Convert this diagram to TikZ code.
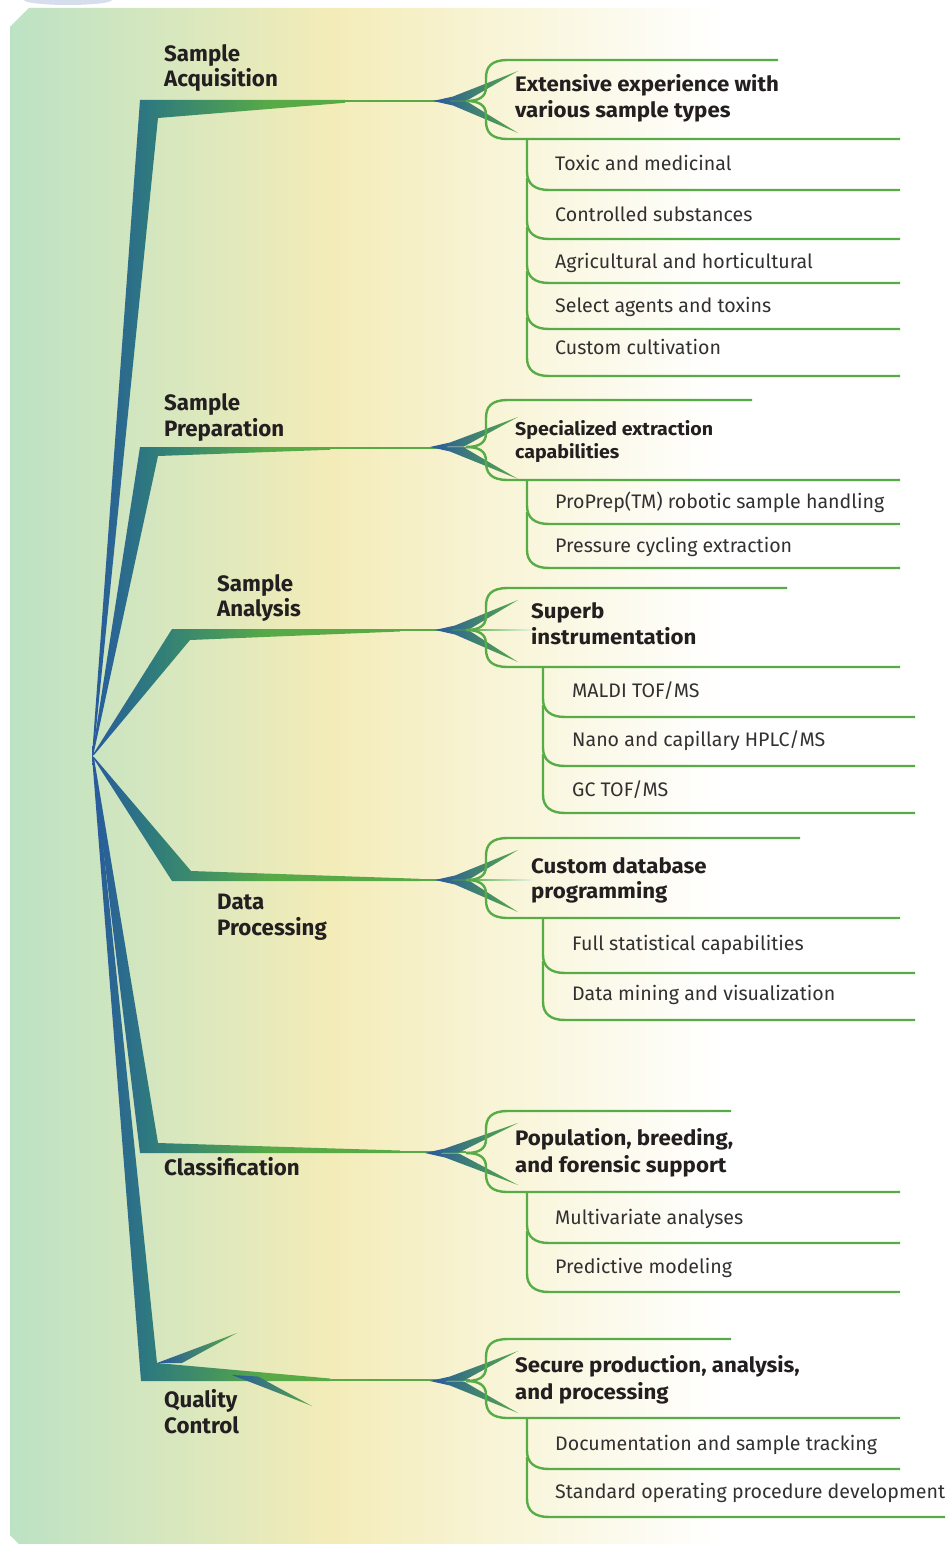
\documentclass[tikz,border=0pt]{standalone}
\usepackage{fontspec}
\setmainfont{Fira Sans}
\newfontfamily\headfont{Fira Sans}[FakeStretch=1.06]
\definecolor{lnGreen}{RGB}{88,172,72}
\definecolor{brBlue}{RGB}{40,88,160}
\definecolor{brTeal}{RGB}{46,122,126}
\definecolor{brGreen}{RGB}{88,170,70}
\definecolor{bgMint}{RGB}{188,226,196}
\definecolor{bgYellow}{RGB}{243,236,184}
\definecolor{txtDark}{RGB}{35,31,32}
\definecolor{txtItem}{RGB}{50,48,48}
\definecolor{blobC}{RGB}{214,222,238}
\tikzset{
  gl/.style={draw=lnGreen, line width=2.4pt},
  lab/.style={anchor=base west, inner sep=0pt, font=\fontsize{22.3}{26}\selectfont\bfseries, text=txtDark},
  head/.style={anchor=base west, inner sep=0pt, font=\headfont\fontsize{21}{25}\selectfont\bfseries, text=txtDark},
  itm/.style={anchor=base west, inner sep=0pt, font=\fontsize{19.6}{23}\selectfont, text=txtItem},
}
\newcommand\GBrace[5]{%
 \draw[gl] (#4,#1) -- (508,#1) .. controls (491,#1) and (486,#1+7) .. (486,#1+18) -- (486,#2-14) .. controls (486,#2-4) and (479,#2) .. (466,#2);
 \draw[gl] (466,#2) .. controls (479,#2) and (486,#2+4) .. (486,#2+14) -- (486,#3-18) .. controls (486,#3-7) and (491,#3) .. (508,#3) -- (#5,#3);
}
\newcommand\GItem[4]{%
 \draw[gl] (#1,#2) -- (#1,#3-18) .. controls (#1,#3-6) and (#1+8,#3) .. (#1+22,#3) -- (#4,#3);
}
\newcommand\GSpikes[2]{%
 \shade[left color=brBlue, right color=brGreen] (#1,#2) -- (#1+20,#2-4.5) -- (518,#2-30) -- (#1+34,#2-0.5) -- cycle;
 \shade[left color=brBlue, right color=brGreen] (#1,#2) -- (#1+20,#2+4.5) -- (518,#2+32) -- (#1+34,#2+0.5) -- cycle;
}
\newcommand\GBranch[1]{%
 \begin{scope}
 \clip #1;
 \shade[left color=brBlue, right color=brTeal] (88,40) rectangle (150,1460);
 \shade[left color=brTeal, right color=brGreen] (149.5,40) rectangle (270,1460);
 \fill[brGreen] (269.5,40) rectangle (480,1460);
 \end{scope}
}
\newcommand\GStem[3]{\draw[brGreen, line width=2.3pt] (#1,#3) -- (#2,#3);}
\begin{document}
\begin{tikzpicture}[x=1pt,y=-1pt]
\useasboundingbox (0,0) rectangle (952,1544);
% background
\begin{scope}
 \clip (0,0) rectangle (952,8);
 \fill[blobC] (68,0) ellipse (44 and 5);
\end{scope}
\begin{scope}
 \clip (10,27) -- (29,8) -- (952,8) -- (952,1544) -- (19,1544) -- (10,1535) -- cycle;
 \shade[left color=bgMint, right color=bgYellow] (10,0) rectangle (330,1544);
 \shade[left color=bgYellow, right color=white] (329.5,0) rectangle (720,1544);
\end{scope}
\coordinate (hub) at (92,756);
% branches
\GBranch{(hub) -- (140,100) -- (345,100) -- (345,102.8) -- (158,118) -- (93.5,754) -- cycle}
\GStem{340}{470}{101.3}
\GBranch{(hub) -- (140,447) -- (330,447) -- (330,449.8) -- (158,456) -- (93.5,754) -- cycle}
\GStem{325}{466}{448.3}
\GBranch{(hub) -- (172,629) -- (400,629) -- (400,631.5) -- (190,640) -- (94,755) -- cycle}
\GStem{395}{470}{630.2}
\GBranch{(hub) -- (172,881) -- (420,881) -- (420,878.8) -- (191,871) -- (94,757) -- cycle}
\GStem{415}{470}{880}
\GBranch{(hub) -- (140,1153) -- (400,1153) -- (400,1150.5) -- (158,1143) -- (94,758) -- cycle}
\GStem{395}{466}{1152}
\GBranch{(hub) -- (141,1381) -- (330,1381) -- (330,1378.5) -- (157,1363) -- (94,758) -- cycle}
\GStem{325}{470}{1380}
\shade[left color=brBlue, right color=brGreen] (157,1363) -- (237,1333) -- (182,1363) -- cycle;
\shade[left color=brBlue, right color=brGreen] (232,1375) -- (258,1376.5) -- (312,1406) -- cycle;
% forks
\GSpikes{433}{101}
\GSpikes{430}{447}
\GSpikes{435}{630}
\GSpikes{435}{880}
\GSpikes{425}{1153}
\GSpikes{430}{1381}
\shade[left color=lnGreen, right color=lnGreen!15!white] (466,629.3) rectangle (532,630.8);
\shade[left color=lnGreen, right color=lnGreen!15!white] (466,879.3) rectangle (532,880.8);
% braces
\GBrace{60}{101}{139}{778}{900}
\GBrace{400}{447}{480}{752}{900}
\GBrace{588}{630}{667}{787}{900}
\GBrace{838}{880}{918}{800}{900}
\GBrace{1111}{1153}{1192}{731}{900}
\GBrace{1339}{1381}{1418}{731}{900}
% items
\GItem{527}{139}{190}{900}
\GItem{527}{178}{239}{900}
\GItem{527}{227}{283}{900}
\GItem{527}{271}{329}{900}
\GItem{527}{317}{376}{900}
\GItem{527}{480}{524}{900}
\GItem{527}{512}{568}{900}
\GItem{543}{667}{717}{915}
\GItem{543}{705}{766}{915}
\GItem{543}{754}{813}{915}
\GItem{543}{918}{973}{915}
\GItem{543}{961}{1020}{915}
\GItem{527}{1192}{1243}{900}
\GItem{527}{1231}{1292}{900}
\GItem{527}{1418}{1469}{900}
\GItem{527}{1457}{1517}{945}
% labels
\node[lab] (l1a) at (164,62) {Sample};
\node[lab] (l1b) at (164,87) {Acquisition};
\node[lab] (l2a) at (164,410) {Sample};
\node[lab] (l2b) at (164,436) {Preparation};
\node[lab] (l3a) at (217,591) {Sample};
\node[lab] (l3b) at (217,616) {Analysis};
\node[lab] (l4a) at (217,909) {Data};
\node[lab] (l4b) at (217,935) {Processing};
\node[lab] (l5a) at (164,1175) {Classification};
\node[lab] (l6a) at (164,1407) {Quality};
\node[lab] (l6b) at (164,1433) {Control};
% headings
\node[head] (h1a) at (515,92) {Extensive experience with};
\node[head] (h1b) at (515,118) {various sample types};
\node[head, font=\headfont\fontsize{18.5}{22}\selectfont\bfseries] (h2a) at (515,435) {Specialized extraction};
\node[head, font=\headfont\fontsize{18.5}{22}\selectfont\bfseries] (h2b) at (515,458) {capabilities};
\node[head] (h3a) at (531,618) {Superb};
\node[head] (h3b) at (531,644) {instrumentation};
\node[head] (h4a) at (531,873) {Custom database};
\node[head] (h4b) at (531,898) {programming};
\node[head] (h5a) at (515,1145) {Population, breeding,};
\node[head] (h5b) at (515,1172) {and forensic support};
\node[head] (h6a) at (515,1372) {Secure production, analysis,};
\node[head] (h6b) at (515,1399) {and processing};
% items text
\node[itm] (i11) at (555,170) {Toxic and medicinal};
\node[itm] (i12) at (555,221) {Controlled substances};
\node[itm] (i13) at (555,268) {Agricultural and horticultural};
\node[itm] (i14) at (555,312) {Select agents and toxins};
\node[itm] (i15) at (555,354) {Custom cultivation};
\node[itm] (i21) at (555,508) {ProPrep(TM) robotic sample handling};
\node[itm] (i22) at (555,552) {Pressure cycling extraction};
\node[itm] (i31) at (572,697) {MALDI TOF/MS};
\node[itm] (i32) at (572,746) {Nano and capillary HPLC/MS};
\node[itm] (i33) at (572,796) {GC TOF/MS};
\node[itm] (i41) at (572,950) {Full statistical capabilities};
\node[itm] (i42) at (572,1000) {Data mining and visualization};
\node[itm] (i51) at (555,1224) {Multivariate analyses};
\node[itm] (i52) at (555,1273) {Predictive modeling};
\node[itm] (i61) at (555,1450) {Documentation and sample tracking};
\node[itm] (i62) at (555,1498) {Standard operating procedure development};
\end{tikzpicture}
\end{document}
